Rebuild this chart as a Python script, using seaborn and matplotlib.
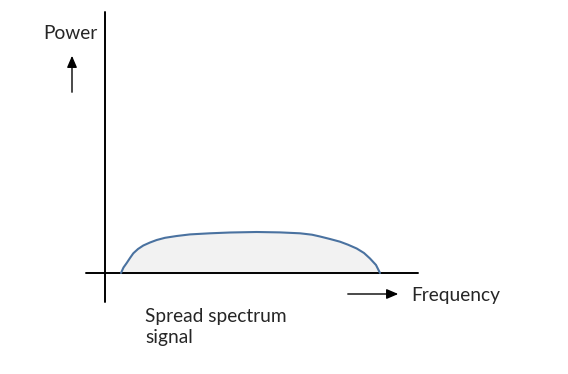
import matplotlib
matplotlib.use("Agg")
import matplotlib.pyplot as plt
import seaborn as sns
import pandas as pd

sns.set_style("white")
plt.rcParams['font.family'] = ['Lato', 'DejaVu Sans']

# Spectrum curve (frequency, power) (baseline = 0)
frequency = [121, 123.5, 126.7, 130, 133.3, 138, 143.3, 150, 156.7, 165, 176.7, 190, 210, 230,
             256.7, 280, 300, 312, 320, 330, 340, 348, 356.7, 364, 370, 376, 380]
power = [0, 5.5, 10, 15, 19.7, 24, 27.5, 30.5, 33, 35.2, 37, 38.6, 39.7, 40.5,
         41, 40.6, 39.7, 38.3, 36.5, 34, 31.3, 28.3, 24.5, 20, 14.5, 8, 0]

labels = {"y": "Power", "x": "Frequency", "caption": "Spread spectrum\nsignal"}

df = pd.DataFrame({"frequency": frequency, "power": power})

fig = plt.figure(figsize=(5.68, 3.74), dpi=100)
ax = fig.add_axes([0, 0, 1, 1])
ax.set_xlim(0, 568)
ax.set_ylim(-101, 273)
ax.axis("off")

ax.fill_between(df["frequency"], 0, df["power"], color="#f2f2f2", zorder=1)
sns.lineplot(data=df, x="frequency", y="power", ax=ax, color="#4a72a0",
             linewidth=1.5, sort=False, zorder=3)

# axes lines
ax.plot([86, 418], [0, 0], color="black", lw=1.4, zorder=2)
ax.plot([105, 105], [261, -29], color="black", lw=1.4, zorder=2)

# arrows
ax.annotate("", xy=(72, 220), xytext=(72, 178),
            arrowprops=dict(arrowstyle="-|>,head_length=0.7,head_width=0.3", color="black", lw=1.0))
ax.annotate("", xy=(401, -21), xytext=(345, -21),
            arrowprops=dict(arrowstyle="-|>,head_length=0.7,head_width=0.3", color="black", lw=1.0))

ax.text(43, 240, labels["y"], fontsize=13.8, va="center", ha="left")
ax.text(411, -22, labels["x"], fontsize=13.8, va="center", ha="left")
ax.text(145, -54, labels["caption"], fontsize=13.8, va="center", ha="left", linespacing=1.3)

fig.savefig("out.png", dpi=100)
